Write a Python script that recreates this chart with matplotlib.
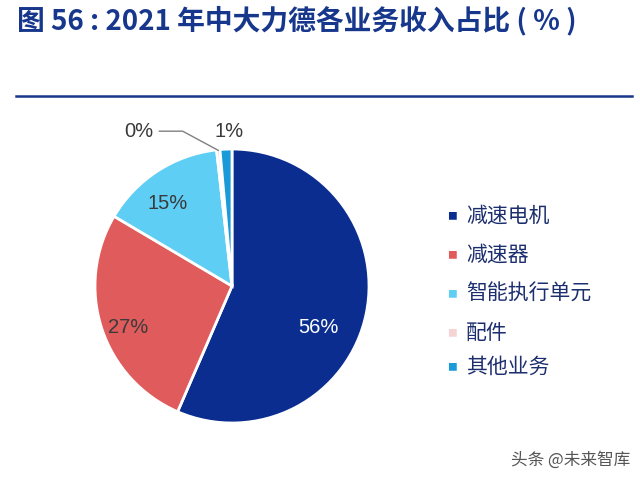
import matplotlib.pyplot as plt

plt.rcParams['font.family'] = ['Noto Sans CJK SC', 'DejaVu Sans']

# data
categories = ["减速电机", "减速器", "智能执行单元", "配件", "其他业务"]
shares = [56.5, 27.0, 14.7, 0.4, 1.4]
pct_labels = ["56%", "27%", "15%", "0%", "1%"]
colors = ["#0a2d8f", "#e05c5c", "#5fcef5", "#f6d4d4", "#1a9ad8"]

fig = plt.figure(figsize=(6.4, 4.78), dpi=100)

# title + rule
fig.text(17 / 640, 1 - 21 / 478, "图 56 : 2021 年中大力德各业务收入占比 ( % )",
         fontsize=20, fontweight="bold", color="#17378c", va="center", ha="left")
fig.add_artist(plt.Line2D([16 / 640, 632 / 640], [1 - 96 / 478, 1 - 96 / 478],
                          color="#17378c", lw=1.8))

# pie
ax = fig.add_axes([95 / 640, 1 - 423 / 478, 274 / 640, 274 / 478])
wedges, _ = ax.pie(shares, colors=colors, startangle=90, counterclock=False,
                   wedgeprops=dict(edgecolor="white", linewidth=2))
ax.set_xlim(-1, 1)
ax.set_ylim(-1, 1)
ax.set_aspect("equal")
ax.axis("off")

# label positions (axes data units)
label_pos = [(0.63, -0.30), (-0.76, -0.30), (-0.47, 0.60), (-0.68, 1.13), (-0.02, 1.13)]
label_colors = ["white", "#3a3a3a", "#3a3a3a", "#3a3a3a", "#3a3a3a"]
for txt, (x, y), c in zip(pct_labels, label_pos, label_colors):
    ax.text(x, y, txt, ha="center", va="center", fontsize=14.5, color=c,
            family=["Liberation Sans", "DejaVu Sans"])

# leader line for the 0% slice
ax.plot([-0.53, -0.36, -0.10], [1.13, 1.13, 0.99], color="#808080", lw=1, clip_on=False)

# legend
leg_y = [216, 255, 294, 333, 367]
for cat, c, y in zip(categories, colors, leg_y):
    fig.text(452 / 640, 1 - y / 478, "■", color=c, fontsize=7, ha="center", va="center")
    fig.text(466 / 640, 1 - y / 478, cat, color="#1c2e6e", fontsize=15,
             ha="left", va="center")

# watermark
fig.text(511 / 640, 1 - 460 / 478, "头条 @未来智库", color="#555555", fontsize=12,
         ha="left", va="center")

fig.savefig("out.png", dpi=100)
